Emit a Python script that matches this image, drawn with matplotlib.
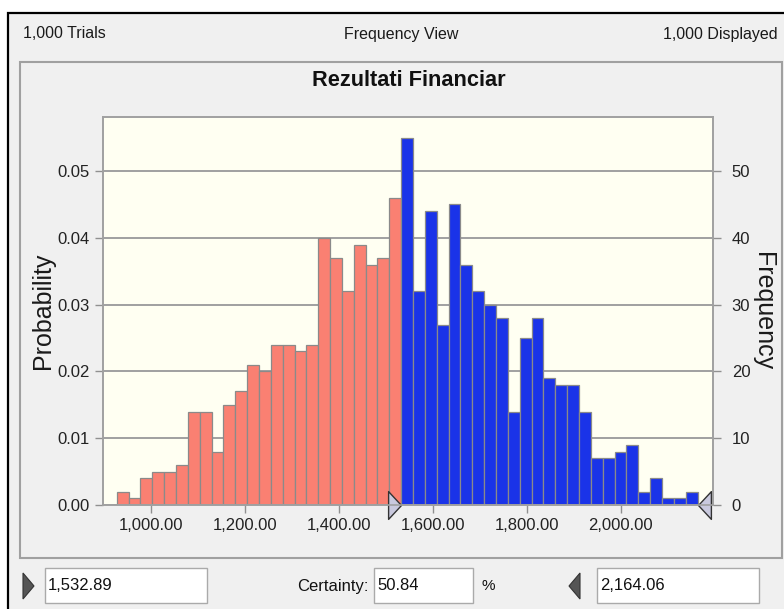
import matplotlib
matplotlib.use("Agg")
import matplotlib.pyplot as plt
from matplotlib import font_manager
from matplotlib.patches import Rectangle, Polygon
from matplotlib.path import Path
import numpy as np

# ---------------- data ----------------
trials = 1000
displayed = 1000
lower_bound = 1532.89
upper_bound = 2164.06
certainty = 50.84
chart_title = "Rezultati Financiar"

# frequencies left of the certainty lower bound (salmon)
red_counts = [2, 1, 4, 5, 5, 6, 14, 14, 8, 15, 17, 21, 20, 24, 24, 23, 24,
              40, 37, 32, 39, 36, 37, 46]
# frequencies inside the certainty range (blue)
blue_counts = [55, 32, 44, 27, 45, 36, 32, 30, 28, 14, 25, 28, 19, 18, 18,
               14, 7, 7, 8, 9, 2, 4, 1, 1, 2]

x_ticks = [1000, 1200, 1400, 1600, 1800, 2000]
prob_ticks = [0.00, 0.01, 0.02, 0.03, 0.04, 0.05]
freq_ticks = [0, 10, 20, 30, 40, 50]

# ---------------- fonts ----------------
names = {f.name for f in font_manager.fontManager.ttflist}
if "Liberation Sans Narrow" in names:
    HF = ["Liberation Sans Narrow", "DejaVu Sans"]
    s_head, s_tick, s_title = 14, 13.5, 18.5
else:
    HF = ["Liberation Sans", "DejaVu Sans"]
    s_head, s_tick, s_title = 11.5, 12, 15.7
RF = ["Liberation Sans", "DejaVu Sans"]

W, H = 784, 609
fig = plt.figure(figsize=(W / 100, H / 100), dpi=100)
fig.patch.set_facecolor("white")


def fx(x):
    return x / W


def fy(y):
    return 1 - y / H


def prect(x0, y0, x1, y1, z=-10, **kw):
    r = Rectangle((fx(x0), fy(y1)), (x1 - x0) / W, (y1 - y0) / H,
                  transform=fig.transFigure, zorder=z, **kw)
    fig.add_artist(r)
    return r


def ptext(x, y, s, **kw):
    fig.text(fx(x), fy(y), s, **kw)


def ppoly(pts, **kw):
    p = Polygon([(fx(a), fy(b)) for a, b in pts], closed=True,
                transform=fig.transFigure, **kw)
    fig.add_artist(p)


# window background + frame
prect(8, 13, 786, 612, z=-20, facecolor="#f0f0f0", edgecolor="black",
      linewidth=1.6)
# inner chart panel
prect(20, 62, 782, 558, z=-15, facecolor="#f0f0f0", edgecolor="#a0a0a0",
      linewidth=1.5)

# header texts
ptext(23, 34, f"{trials:,} Trials", fontsize=s_head, family=HF, va="center",
      ha="left", color="#1a1a1a")
ptext(401, 34, "Frequency View", fontsize=s_head, family=HF, va="center",
      ha="center", color="#1a1a1a")
ptext(778, 34, f"{displayed:,} Displayed", fontsize=s_head, family=HF,
      va="center", ha="right", color="#1a1a1a")
ptext(409, 81, chart_title, fontsize=s_title, family=HF, weight="bold",
      va="center", ha="center", color="#111111")

# ---------------- plot ----------------
ax = fig.add_axes([fx(103), fy(505), 610 / W, 388 / H])
ax.set_facecolor("#fffff2")

n_blue = len(blue_counts)
n_red = len(red_counts)
bw = (upper_bound - lower_bound) / n_blue
red_left = [lower_bound - bw * (n_red - i) for i in range(n_red)]
blue_left = [lower_bound + bw * i for i in range(n_blue)]

ax.bar(red_left, np.array(red_counts) / trials, width=bw, align="edge",
       color="#fa8072", edgecolor="#8a8a8a", linewidth=0.9, zorder=2)
ax.bar(blue_left, np.array(blue_counts) / trials, width=bw, align="edge",
       color="#1a33e8", edgecolor="#8a8a8a", linewidth=0.9, zorder=2)

ymax = 0.0581
ax.set_ylim(0, ymax)
ax.set_xlim(897.8, 2197.0)
ax.set_yticks(prob_ticks)
ax.set_yticklabels([f"{v:.2f}" for v in prob_ticks])
ax.set_xticks(x_ticks)
ax.set_xticklabels([f"{v:,.2f}" for v in x_ticks])
ax.grid(axis="y", color="#a0a0a0", linewidth=1.4, zorder=1)
ax.set_axisbelow(True)

for sp in ax.spines.values():
    sp.set_color("#a0a0a0")
    sp.set_linewidth(1.2)

ax.tick_params(axis="both", direction="out", length=5.5, width=1,
               color="#909090", labelsize=s_tick, labelcolor="#222222", pad=4)
for lab in ax.get_xticklabels() + ax.get_yticklabels():
    lab.set_family(HF)

ax.set_ylabel("Probability", family=RF, fontsize=18, color="#1a1a1a",
              labelpad=1.5)

ax2 = ax.twinx()
ax2.set_ylim(0, ymax * trials)
ax2.set_yticks(freq_ticks)
ax2.set_yticklabels([str(v) for v in freq_ticks])
for sp in ax2.spines.values():
    sp.set_color("#a0a0a0")
    sp.set_linewidth(1.2)
ax2.tick_params(axis="y", direction="out", length=5.5, width=1,
                color="#909090", labelsize=s_tick, labelcolor="#222222", pad=8)
for lab in ax2.get_yticklabels():
    lab.set_family(HF)
ax2.set_ylabel("Frequency", family=RF, fontsize=18, color="#1a1a1a",
               rotation=270, labelpad=17.5)

# certainty grabbers on the axis
right_tri = Path([(-13, -14), (0, 0), (-13, 14), (-13, -14)],
                 [Path.MOVETO, Path.LINETO, Path.LINETO, Path.CLOSEPOLY])
left_tri = Path([(13, -14), (0, 0), (13, 14), (13, -14)],
                [Path.MOVETO, Path.LINETO, Path.LINETO, Path.CLOSEPOLY])
ax.plot([lower_bound], [0], marker=right_tri, markersize=20,
        markerfacecolor="#c9c9de", markeredgecolor="#333333",
        markeredgewidth=1.0, clip_on=False, zorder=5, linestyle="none")
ax.plot([upper_bound], [0], marker=left_tri, markersize=20,
        markerfacecolor="#c9c9de", markeredgecolor="#333333",
        markeredgewidth=1.0, clip_on=False, zorder=5, linestyle="none")

# ---------------- bottom controls ----------------
ppoly([(23, 573), (34, 586), (23, 599)], facecolor="#555555",
      edgecolor="#333333", linewidth=0.8)
ppoly([(580, 573), (569, 586), (580, 599)], facecolor="#555555",
      edgecolor="#333333", linewidth=0.8)

prect(45, 568, 207, 603, z=1, facecolor="white", edgecolor="#aaaaaa",
      linewidth=1)
prect(374, 568, 473, 603, z=1, facecolor="white", edgecolor="#aaaaaa",
      linewidth=1)
prect(597, 568, 759, 603, z=1, facecolor="white", edgecolor="#aaaaaa",
      linewidth=1)

ptext(48, 586, f"{lower_bound:,.2f}", fontsize=s_tick, family=HF,
      va="center", ha="left", color="#111111")
ptext(369, 586, "Certainty:", fontsize=s_tick, family=HF, va="center",
      ha="right", color="#111111")
ptext(377, 586, f"{certainty:.2f}", fontsize=s_tick, family=HF, va="center",
      ha="left", color="#111111")
ptext(482, 586, "%", fontsize=s_tick - 1, family=HF, va="center", ha="left",
      color="#111111")
ptext(600, 586, f"{upper_bound:,.2f}", fontsize=s_tick, family=HF,
      va="center", ha="left", color="#111111")

fig.savefig("out.png", dpi=100)
